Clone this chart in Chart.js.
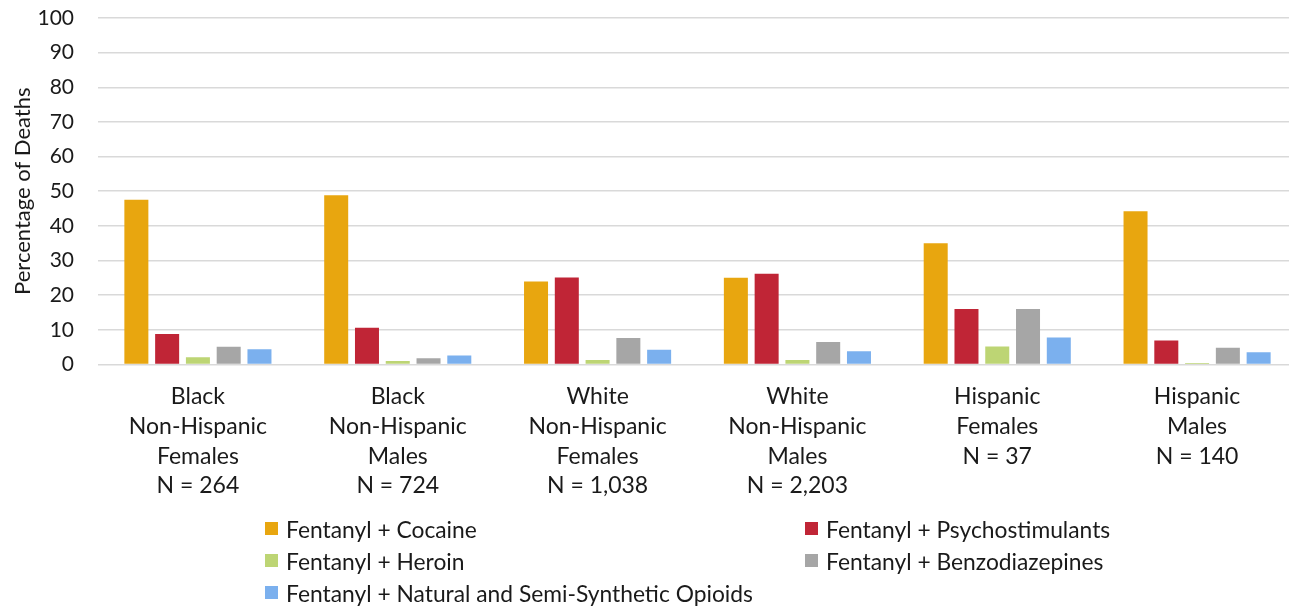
<!DOCTYPE html>
<html>
<head>
<meta charset="utf-8">
<script src="https://cdn.jsdelivr.net/npm/chart.js"></script>
<style>
    body { margin: 0; background: #fff; font-family: Lato, sans-serif; }
    #wrap { position: relative; width: 1289px; height: 607px; overflow: hidden; }
    #legend { position: absolute; left: 0; top: 0; width: 100%; height: 100%; pointer-events: none; }
    .item { position: absolute; font-size: 22.8px; color: #1a1a1a; line-height: 1; white-space: nowrap; }
    .item span.box { position: absolute; left: 0; top: 50%; width: 13px; height: 13px; margin-top: -7px; }
    .item span.txt { position: absolute; left: 21px; top: 0; transform: translateY(-50%); }
</style>
</head>
<body>
<div id="wrap">
    <!-- canvas a bit wider than the page: the plot runs past the right edge in the original -->
    <canvas id="chart" width="1297" height="607"></canvas>
    <div id="legend"></div>
</div>
<script>
// categories (multi-line labels)
const categories = [
    ['Black', 'Non-Hispanic', 'Females', 'N = 264'],
    ['Black', 'Non-Hispanic', 'Males', 'N = 724'],
    ['White', 'Non-Hispanic', 'Females', 'N = 1,038'],
    ['White', 'Non-Hispanic', 'Males', 'N = 2,203'],
    ['Hispanic', 'Females', 'N = 37'],
    ['Hispanic', 'Males', 'N = 140']
];

// series values, percent of deaths
const cocaine = [47.5, 48.8, 23.9, 25.0, 35.0, 44.2];
const psychostimulants = [8.8, 10.6, 25.1, 26.2, 16.0, 6.9];
const heroin = [2.1, 1.0, 1.3, 1.3, 5.2, 0.4];
const benzodiazepines = [5.1, 1.8, 7.6, 6.5, 16.0, 4.8];
const naturalOpioids = [4.4, 2.6, 4.2, 3.8, 7.8, 3.5];

const seriesNames = [
    'Fentanyl + Cocaine',
    'Fentanyl + Psychostimulants',
    'Fentanyl + Heroin',
    'Fentanyl + Benzodiazepines',
    'Fentanyl + Natural and Semi-Synthetic Opioids'
];
const seriesColors = ['#E8A60F', '#C02536', '#BDD574', '#A6A6A6', '#7BB0EE'];
const seriesValues = [cocaine, psychostimulants, heroin, benzodiazepines, naturalOpioids];

const yTicks = [0, 10, 20, 30, 40, 50, 60, 70, 80, 90, 100];

const textColor = '#1a1a1a';

const datasets = seriesNames.map((name, i) => ({
    label: name,
    data: seriesValues[i],
    backgroundColor: seriesColors[i],
    borderWidth: 0,
    categoryPercentage: 0.77,
    barPercentage: 0.78
}));

const ctx = document.getElementById('chart').getContext('2d');
new Chart(ctx, {
    type: 'bar',
    data: { labels: categories, datasets: datasets },
    options: {
        responsive: false,
        animation: false,
        layout: { padding: { left: 10, right: 0, top: 18, bottom: 89 } },
        plugins: {
            legend: { display: false },
            tooltip: { enabled: false }
        },
        scales: {
            x: {
                grid: { display: false, drawTicks: false },
                border: { display: false },
                ticks: {
                    color: textColor,
                    font: { family: 'Lato', size: 23, lineHeight: 1.3 },
                    padding: 17,
                    maxRotation: 0,
                    autoSkip: false
                }
            },
            y: {
                min: 0,
                max: 100,
                afterBuildTicks: axis => { axis.ticks = yTicks.map(v => ({ value: v })); },
                afterFit: axis => {
                    axis.width = 88;
                    axis.paddingTop = 0;
                    axis.paddingBottom = 0;
                },
                grid: { color: '#D9D9D9', lineWidth: 1.5, drawTicks: false },
                border: { display: false },
                ticks: {
                    color: textColor,
                    font: { family: 'Lato', size: 21 },
                    padding: 24
                },
                title: {
                    display: true,
                    text: 'Percentage of Deaths',
                    color: textColor,
                    font: { family: 'Lato', size: 22 },
                    padding: { top: 0, bottom: 0 }
                }
            }
        }
    }
});

// legend in two columns like the original
const legendPos = [
    [265, 529], [805, 529],
    [265, 561], [805, 561],
    [265, 593]
];
const legendDiv = document.getElementById('legend');
seriesNames.forEach((name, i) => {
    const el = document.createElement('div');
    el.className = 'item';
    el.style.left = legendPos[i][0] + 'px';
    el.style.top = legendPos[i][1] + 'px';
    el.innerHTML = `<span class="box" style="background:${seriesColors[i]}"></span><span class="txt">${name}</span>`;
    legendDiv.appendChild(el);
});
</script>
</body>
</html>
